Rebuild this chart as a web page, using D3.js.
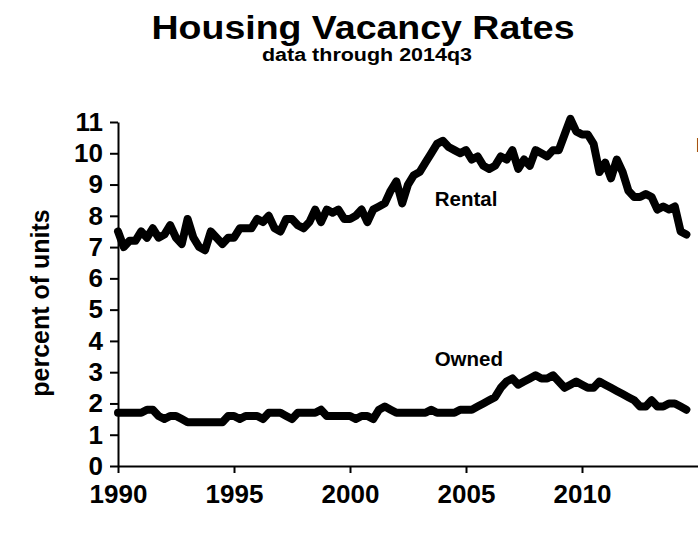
<!DOCTYPE html>
<html>
<head>
<meta charset="utf-8">
<script src="https://cdnjs.cloudflare.com/ajax/libs/d3/7.8.5/d3.min.js"></script>
<style>
    html, body { margin: 0; padding: 0; background: #fff; }
    svg { display: block; font-family: "Liberation Sans", Arial, sans-serif; }
</style>
</head>
<body>
<div id="chart"></div>
<script>
// quarterly rates, 1990q1 .. 2014q3
var startYear = 1990;

var rentalRate = [
    7.5, 7.0, 7.2, 7.2,   7.5, 7.3, 7.6, 7.3,   7.4, 7.7, 7.3, 7.1,
    7.9, 7.3, 7.0, 6.9,   7.5, 7.3, 7.1, 7.3,   7.3, 7.6, 7.6, 7.6,
    7.9, 7.8, 8.0, 7.6,   7.5, 7.9, 7.9, 7.7,   7.6, 7.8, 8.2, 7.8,
    8.2, 8.1, 8.2, 7.9,   7.9, 8.0, 8.2, 7.8,   8.2, 8.3, 8.4, 8.8,
    9.1, 8.4, 9.0, 9.3,   9.4, 9.7, 10.0, 10.3, 10.4, 10.2, 10.1, 10.0,
    10.1, 9.8, 9.9, 9.6,  9.5, 9.6, 9.9, 9.8,   10.1, 9.5, 9.8, 9.6,
    10.1, 10.0, 9.9, 10.1, 10.1, 10.6, 11.1, 10.7, 10.6, 10.6, 10.3, 9.4,
    9.7, 9.2, 9.8, 9.4,   8.8, 8.6, 8.6, 8.7,   8.6, 8.2, 8.3, 8.2,
    8.3, 7.5, 7.4
];

var ownedRate = [
    1.7, 1.7, 1.7, 1.7,   1.7, 1.8, 1.8, 1.6,   1.5, 1.6, 1.6, 1.5,
    1.4, 1.4, 1.4, 1.4,   1.4, 1.4, 1.4, 1.6,   1.6, 1.5, 1.6, 1.6,
    1.6, 1.5, 1.7, 1.7,   1.7, 1.6, 1.5, 1.7,   1.7, 1.7, 1.7, 1.8,
    1.6, 1.6, 1.6, 1.6,   1.6, 1.5, 1.6, 1.6,   1.5, 1.8, 1.9, 1.8,
    1.7, 1.7, 1.7, 1.7,   1.7, 1.7, 1.8, 1.7,   1.7, 1.7, 1.7, 1.8,
    1.8, 1.8, 1.9, 2.0,   2.1, 2.2, 2.5, 2.7,   2.8, 2.6, 2.7, 2.8,
    2.9, 2.8, 2.8, 2.9,   2.7, 2.5, 2.6, 2.7,   2.6, 2.5, 2.5, 2.7,
    2.6, 2.5, 2.4, 2.3,   2.2, 2.1, 1.9, 1.9,   2.1, 1.9, 1.9, 2.0,
    2.0, 1.9, 1.8
];

var yTicks = [0, 1, 2, 3, 4, 5, 6, 7, 8, 9, 10, 11];
var xTicks = [1990, 1995, 2000, 2005, 2010];

var seriesLabels = [
    { name: 'Rental', year: 2003.65, value: 8.3 },
    { name: 'Owned', year: 2003.65, value: 3.2 }
];

var width = 698,
    height = 540;

var svg = d3.select('#chart').append('svg')
    .attr('width', width)
    .attr('height', height);

var x = d3.scaleLinear().domain([1990, 2015]).range([118, 698]),
    y = d3.scaleLinear().domain([0, 11]).range([466, 122]);

function toPoints(arr) {
    return arr.map(function(v, i) {
        return { t: startYear + i / 4, v: v };
    });
}

// titles (the original type runs wide, so stretch it to its width)
svg.append('text')
    .attr('x', 363).attr('y', 39)
    .attr('text-anchor', 'middle')
    .attr('textLength', 423).attr('lengthAdjust', 'spacingAndGlyphs')
    .style('font-size', '34px').style('font-weight', 'bold')
    .text('Housing Vacancy Rates');

svg.append('text')
    .attr('x', 367).attr('y', 61)
    .attr('text-anchor', 'middle')
    .attr('textLength', 210).attr('lengthAdjust', 'spacingAndGlyphs')
    .style('font-size', '18px').style('font-weight', 'bold')
    .text('data through 2014q3');

svg.append('text')
    .attr('transform', 'translate(40,303) rotate(-90)')
    .attr('text-anchor', 'middle')
    .attr('dy', '0.35em')
    .style('font-size', '25px').style('font-weight', 'bold')
    .text('percent of units');

// axes
svg.append('g')
    .attr('transform', 'translate(118,0)')
    .call(d3.axisLeft(y).tickValues(yTicks).tickSize(8).tickSizeOuter(0).tickPadding(7));

svg.append('g')
    .attr('transform', 'translate(0,466)')
    .call(d3.axisBottom(x).tickValues(xTicks).tickFormat(d3.format('d')).tickSize(7).tickSizeOuter(0).tickPadding(12));

svg.selectAll('.domain, .tick line')
    .attr('stroke', '#000')
    .attr('stroke-width', 2);

svg.selectAll('.tick text')
    .attr('fill', '#000')
    .style('font-size', '26px')
    .style('font-weight', 'bold')
    .style('font-family', '"Liberation Sans", Arial, sans-serif');

// lines
var line = d3.line()
    .x(function(d) { return x(d.t); })
    .y(function(d) { return y(d.v); });

svg.append('g')
    .selectAll('path.series')
    .data([rentalRate, ownedRate])
    .enter().append('path')
    .attr('class', 'series')
    .attr('d', function(d) { return line(toPoints(d)); })
    .attr('fill', 'none')
    .attr('stroke', '#000')
    .attr('stroke-width', 8)
    .attr('stroke-linejoin', 'round')
    .attr('stroke-linecap', 'round');

svg.append('g')
    .selectAll('text')
    .data(seriesLabels)
    .enter().append('text')
    .attr('x', function(d) { return x(d.year); })
    .attr('y', function(d) { return y(d.value); })
    .style('font-size', '20.5px').style('font-weight', 'bold')
    .text(function(d) { return d.name; });

// label cut off at the right edge
svg.append('text')
    .attr('x', 696).attr('y', 152)
    .style('font-size', '20px').style('font-weight', 'bold')
    .text('Latest');
</script>
</body>
</html>
